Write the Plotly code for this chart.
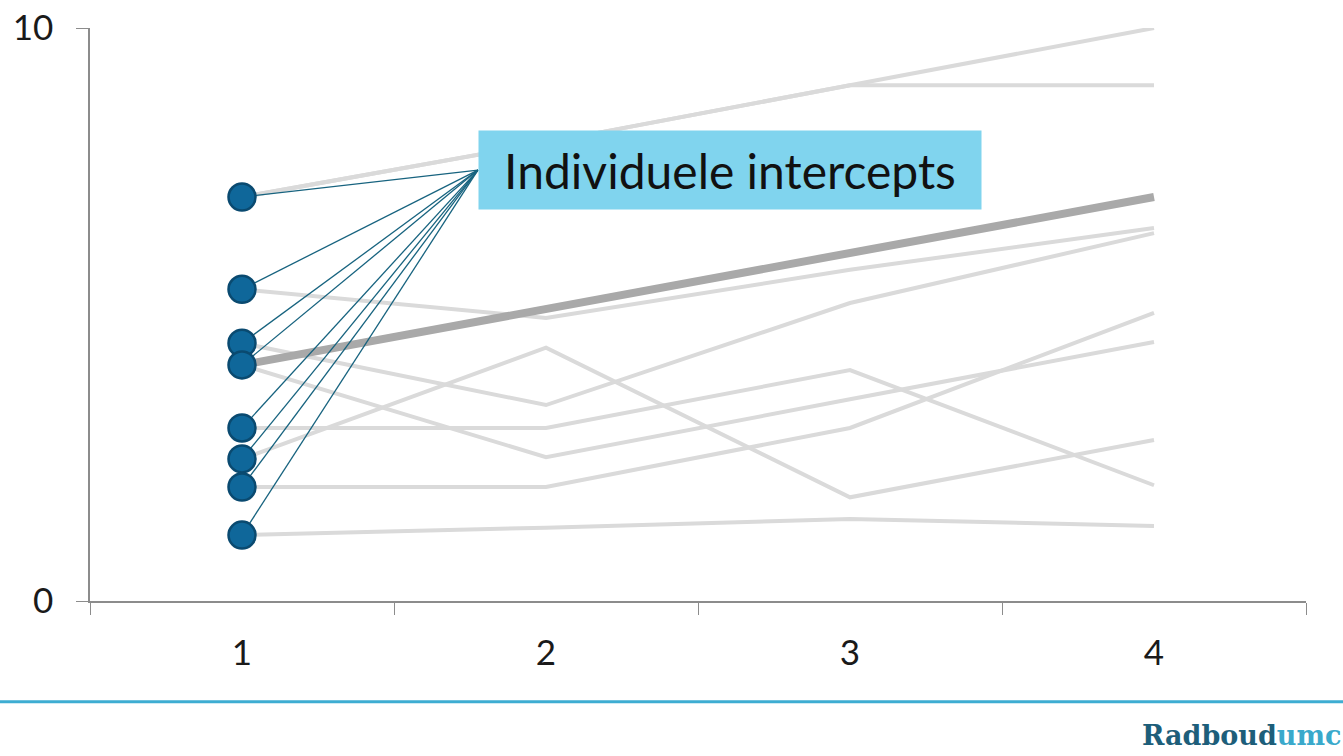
import plotly.graph_objects as go

# Measurement occasions
waves = [1, 2, 3, 4]
wave_labels = ["1", "2", "3", "4"]

# Individual trajectories (one list per person)
person_1 = [7.05, 8.00, 9.00, 10.00]
person_2 = [7.05, 8.00, 9.00, 9.00]
person_3 = [5.44, 4.94, 5.78, 6.51]
person_4 = [4.50, 3.42, 5.20, 6.42]
person_5 = [4.12, 2.51, 3.52, 4.52]
person_6 = [3.02, 3.02, 4.03, 2.02]
person_7 = [2.48, 4.42, 1.81, 2.81]
person_8 = [1.99, 1.99, 3.02, 5.03]
person_9 = [1.15, 1.28, 1.43, 1.31]

# Average trajectory
mean_line = [4.12, 5.10, 6.08, 7.05]

persons = [person_1, person_2, person_3, person_4, person_5,
           person_6, person_7, person_8, person_9]

# Intercepts = value at the first occasion (unique)
intercepts = sorted({p[0] for p in persons}, reverse=True)

label_text = "Individuele intercepts"

# Where the connector lines meet the label box (data units)
label_x = 1.776
label_y = 7.52

GREY = "#dadada"
MEAN_GREY = "#a9a9a9"
DOT_FILL = "#0f679a"
DOT_EDGE = "#0a4a70"
CONNECTOR = "#17637f"
FONT = "Lato, Open Sans, sans-serif"
TICK_FONT = dict(family=FONT, size=35, color="#1a1a1a")

fig = go.Figure()

for p in persons:
    fig.add_trace(go.Scatter(x=waves, y=p, mode="lines",
                             line=dict(color=GREY, width=4),
                             hoverinfo="skip", showlegend=False))

fig.add_trace(go.Scatter(x=waves, y=mean_line, mode="lines",
                         line=dict(color=MEAN_GREY, width=8),
                         hoverinfo="skip", showlegend=False))

# Connectors from every intercept to the label
cx, cy = [], []
for v in intercepts:
    cx += [waves[0], label_x, None]
    cy += [v, label_y, None]
fig.add_trace(go.Scatter(x=cx, y=cy, mode="lines",
                         line=dict(color=CONNECTOR, width=1.3),
                         hoverinfo="skip", showlegend=False))

fig.add_trace(go.Scatter(x=[waves[0]] * len(intercepts), y=intercepts,
                         mode="markers",
                         marker=dict(size=27, color=DOT_FILL,
                                     line=dict(color=DOT_EDGE, width=2.5)),
                         hoverinfo="skip", showlegend=False))

fig.add_annotation(x=label_x, y=label_y, xref="x", yref="y",
                   text=label_text, showarrow=False,
                   xanchor="left", yanchor="middle",
                   width=502, height=78, borderpad=0, align="center",
                   bgcolor="#80d4ee",
                   font=dict(family=FONT, size=48, color="#111111"))

# Footer rule and logo text
fig.add_shape(type="line", xref="paper", yref="paper",
              x0=-0.08, x1=1.04, y0=-0.176, y1=-0.176,
              line=dict(color="#3eadd2", width=3))
fig.add_annotation(xref="paper", yref="paper", x=1.0304, y=-0.234,
                   xanchor="right", yanchor="middle", showarrow=False,
                   text="<b><span style='color:#1d5e7a'>Radboud</span>"
                        "<span style='color:#3aa9cb'>umc</span></b>",
                   font=dict(family="DejaVu Serif, serif", size=27))

fig.update_layout(
    width=1343, height=756,
    margin=dict(l=90, r=37, t=28, b=155),
    paper_bgcolor="white", plot_bgcolor="white",
    showlegend=False,
    font=dict(family=FONT, size=31, color="#1a1a1a"),
)

fig.update_xaxes(range=[0.5, 4.5], tickvals=waves, ticktext=wave_labels,
                 ticks="", showgrid=False, zeroline=False, automargin=False,
                 showline=True, linecolor="#8c8c8c", linewidth=1.5,
                 tickfont=TICK_FONT, ticklabelstandoff=20,
                 minor=dict(tick0=0.5, dtick=1, ticks="outside",
                            ticklen=12, tickcolor="#8c8c8c", tickwidth=1.2,
                            showgrid=False))

fig.update_yaxes(range=[0, 10], tickvals=[0, 10], ticks="outside",
                 ticklen=12, tickcolor="#8c8c8c", tickwidth=1.2,
                 showgrid=False, zeroline=False, automargin=False,
                 showline=True, linecolor="#8c8c8c", linewidth=1.5,
                 tickfont=TICK_FONT, ticklabelstandoff=16)

fig.write_html("out.html")
